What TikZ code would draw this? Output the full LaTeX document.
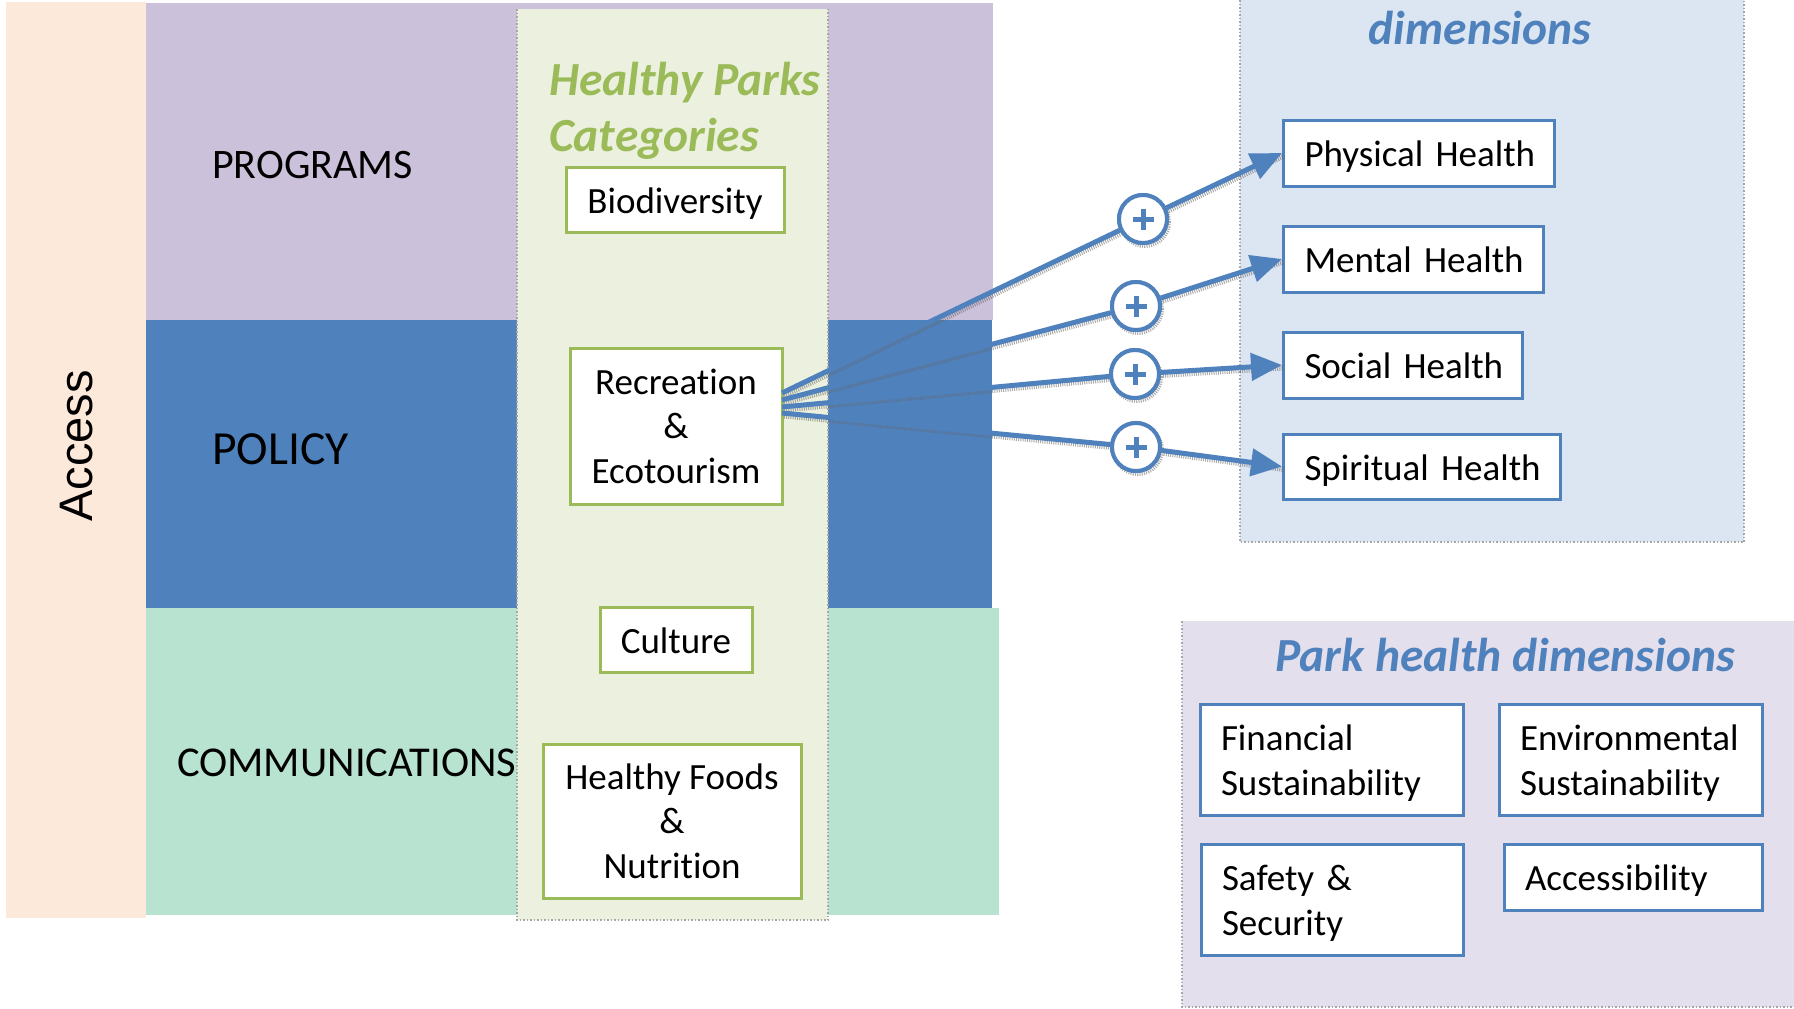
\documentclass[tikz,border=0pt]{standalone}
\usepackage{fontspec}
\setmainfont{Carlito}[Ligatures=NoCommon]
\newfontfamily\arialfont{Liberation Sans}
\usetikzlibrary{arrows.meta,calc}
\definecolor{accessc}{HTML}{FDE9D9}
\definecolor{progc}{HTML}{CCC1DA}
\definecolor{policyc}{HTML}{4F81BD}
\definecolor{commc}{HTML}{B7E3D0}
\definecolor{colc}{HTML}{EBF1DE}
\definecolor{greenc}{HTML}{9BBB59}
\definecolor{bluec}{HTML}{4F81BD}
\definecolor{bluepanel}{HTML}{DCE6F2}
\definecolor{purplepanel}{HTML}{E4DFEC}
\newcommand\mytopstrut{\rule{0pt}{33pt}}
\begin{document}
\begin{tikzpicture}[x=1pt,y=-1pt,
  boxtext/.style={font=\fontsize{37}{44.5}\selectfont},
  gbox/.style={draw=greenc, line width=3pt, fill=white, inner sep=0pt, align=center, boxtext},
  bbox/.style={draw=bluec, line width=3pt, fill=white, inner ysep=0pt, inner xsep=21pt, align=left, boxtext},
  oneline/.style={text height=27pt, text depth=0pt},
  titletext/.style={font=\fontsize{47.5}{56}\selectfont\bfseries\itshape, inner sep=0pt},
  bandtext/.style={font=\fontsize{42}{50}\selectfont, inner sep=0pt, anchor=base west},
  plus/.style={circle, draw=bluec, line width=4pt, fill=white, minimum size=48pt, inner sep=0pt,
    path picture={\draw[bluec, line width=5pt] (path picture bounding box.center) ++(-10.5,0) -- ++(21,0)
      (path picture bounding box.center) ++(0,-10.5) -- ++(0,21);}},
  arr/.style={draw=bluec, line width=5pt},
  arrtip/.style={arr, -{Triangle[length=31pt,width=27pt]}},
  lineshadow/.style={draw=black!60, line width=5pt, dash pattern=on 1pt off 1.2pt, opacity=0.55,
    transform canvas={shift={(2pt,-3pt)}}},
  circshadow/.style={draw=black!60, line width=4pt, dash pattern=on 1pt off 1.2pt, opacity=0.55,
    transform canvas={shift={(2pt,-3pt)}}},
  shadowline/.style={draw=gray!70, line width=1.5pt, dotted}
]
\useasboundingbox (0,0) rectangle (1794,1009);
% bands
\fill[accessc] (6,2) rectangle (146,918);
\fill[progc] (146,3) rectangle (993,320);
\fill[policyc] (146,320) rectangle (992,608);
\fill[commc] (146,608) rectangle (999,915);
% category column
\fill[colc] (517,9) rectangle (828,920);
\draw[shadowline] (517,9) -- (517,920) -- (828,920) -- (828,9);
% panels
\fill[bluepanel] (1240,0) rectangle (1744,542);
\draw[shadowline] (1240,0) -- (1240,542) -- (1744,542) -- (1744,0);
\fill[purplepanel] (1182,621) rectangle (1794,1007);
\draw[shadowline] (1182,621) -- (1182,1007) -- (1794,1007);
% band labels
\node[bandtext] (prog) at (212,178) {PROGRAMS};
\node[bandtext, font=\fontsize{47.5}{56}\selectfont] (pol) at (212,464) {POLICY};
\node[bandtext, font=\fontsize{42.5}{50}\selectfont] (comm) at (177,776) {COMMUNICATIONS};
\node[font=\arialfont\fontsize{47}{56}\selectfont, rotate=90, inner sep=0pt] (access) at (77,446) {Access};
% category title and boxes
\node[titletext, text=greenc, align=left, anchor=west] (hp) at (549,111) {Healthy Parks\\Categories};
\node[gbox, oneline, minimum width=218pt, minimum height=65pt] (bio) at (675,199.5) {Biodiversity};
\node[gbox, minimum width=212pt, minimum height=156pt] (rec) at (676,426) {Recreation\\\&\\Ecotourism};
\node[gbox, oneline, minimum width=152pt, minimum height=65pt] (cul) at (676,639.5) {Culture};
\node[gbox, minimum width=258pt, minimum height=154pt] (food) at (672,821) {Healthy Foods\\\&\\Nutrition};
% health dimension boxes
\node[titletext, text=bluec, anchor=base] (dimt) at (1480,44) {dimensions};
\node[bbox, oneline, text width=229pt, minimum height=66pt, anchor=west] (phys) at (1282,153) {Physical~Health};
\node[bbox, oneline, text width=218pt, minimum height=66pt, anchor=west] (ment) at (1282,259) {Mental~Health};
\node[bbox, oneline, text width=197pt, minimum height=66pt, anchor=west] (soc) at (1282,365) {Social~Health};
\node[bbox, oneline, text width=235pt, minimum height=65pt, anchor=west] (spir) at (1282,466.5) {Spiritual~Health};
% park health dimensions
\node[titletext, text=bluec, anchor=base] (pht) at (1505,671) {Park health dimensions};
\node[bbox, text width=221pt, minimum height=111pt] (fin) at (1331.5,759.5) {\mytopstrut Financial\\Sustainability};
\node[bbox, text width=221pt, minimum height=111pt] (env) at (1630.5,759.5) {\mytopstrut Environmental\\Sustainability};
\node[bbox, text width=220pt, minimum height=111pt] (saf) at (1332,899.5) {\mytopstrut Safety \&\\Security};
\node[bbox, oneline, text width=216pt, minimum height=66pt] (accb) at (1633,877) {Accessibility};
% plus circles
\node[plus] (c1) at (1143,219) {};
\node[plus] (c2) at (1136,306) {};
\node[plus] (c3) at (1135,374) {};
\node[plus] (c4) at (1136,447) {};
% connectors
\coordinate (r1) at (782,393);
\coordinate (r2) at (782,400);
\coordinate (r3) at (782,407);
\coordinate (r4) at (782,413);
\foreach \c in {c1,c2,c3,c4} \draw[circshadow] (\c) circle (24pt);
\draw[lineshadow] (r1) -- (c1) (c1) -- (phys.west);
\draw[lineshadow] (r2) -- (c2) (c2) -- (ment.west);
\draw[lineshadow] (r3) -- (c3) (c3) -- (soc.west);
\draw[lineshadow] (r4) -- (c4) (c4) -- (spir.west);
\node[plus] at (c1) {};
\node[plus] at (c2) {};
\node[plus] at (c3) {};
\node[plus] at (c4) {};
\draw[arr] (r1) -- (c1);
\draw[arr] (r2) -- (c2);
\draw[arr] (r3) -- (c3);
\draw[arr] (r4) -- (c4);
\draw[arrtip] (c1) -- (phys.west);
\draw[arrtip] (c2) -- (ment.west);
\draw[arrtip] (c3) -- (soc.west);
\draw[arrtip] (c4) -- (spir.west);
\end{tikzpicture}
\end{document}
